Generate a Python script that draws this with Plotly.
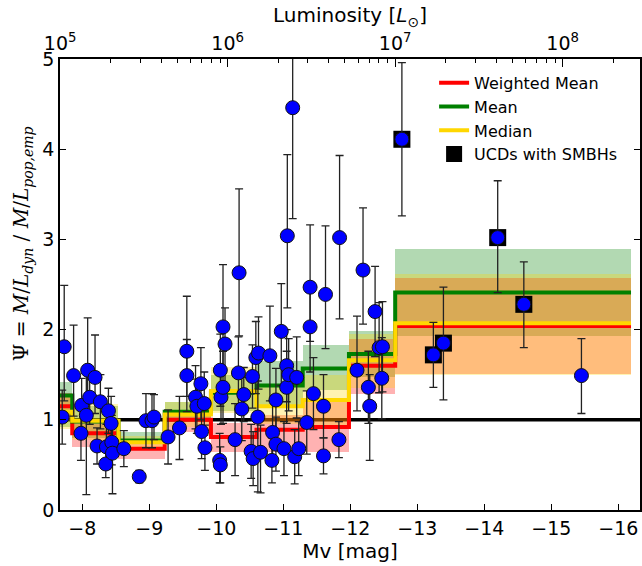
import plotly.graph_objects as go

# ── Individual objects: Mv, Psi and asymmetric errors ────────────────────────
mv = [-7.70, -7.73, -7.87, -7.98, -7.99, -8.06, -8.08, -8.11, -8.19, -8.22,
      -8.27, -8.35, -8.36, -8.39, -8.43, -8.44, -8.45, -8.62, -8.85, -8.95,
      -9.04, -9.07, -9.28, -9.45, -9.56, -9.56, -9.69, -9.71, -9.77, -9.78,
      -9.82, -9.83, -10.05, -10.06, -10.06, -10.07, -10.10, -10.10, -10.13, -10.28,
      -10.34, -10.33, -10.38, -10.41, -10.52, -10.54, -10.55, -10.59, -10.62, -10.63,
      -10.66, -10.80, -10.83, -10.84, -10.89, -10.89, -10.97, -11.01, -11.05, -11.05,
      -11.06, -11.08, -11.14, -11.17, -11.20, -11.23, -11.35, -11.40, -11.40, -11.45,
      -11.60, -11.60, -11.63, -11.84, -11.83, -12.10, -12.19, -12.27, -12.29, -12.37,
      -12.43, -12.47, -12.48, -12.77, -13.24, -13.39, -14.20, -14.59, -15.45]
psi = [1.03, 1.81, 1.49, 0.85, 1.16, 1.05, 1.55, 1.25, 1.47, 0.71,
       1.20, 0.51, 0.70, 1.10, 0.96, 0.75, 0.63, 0.68, 0.37, 0.99,
       0.99, 1.03, 0.81, 0.91, 1.76, 1.49, 1.25, 1.15, 1.40, 0.87,
       1.18, 0.69, 0.55, 0.50, 1.55, 1.25, 1.36, 2.03, 1.84, 0.78,
       2.63, 1.52, 1.12, 1.28, 0.65, 1.48, 0.57, 1.69, 1.03, 1.74,
       0.64, 1.71, 0.55, 0.86, 0.73, 1.22, 1.98, 0.68, 1.36, 1.60,
       3.04, 1.50, 4.46, 0.59, 1.47, 0.68, 0.97, 2.47, 2.03, 1.29,
       1.15, 0.60, 2.39, 3.02, 0.78, 1.55, 2.66, 1.36, 1.15, 2.20,
       1.80, 1.46, 1.81, 4.11, 1.72, 1.85, 3.02, 2.28, 1.49]
err_up = [0.30, 0.68, 0.56, 0.35, 0.30, 0.50, 0.58, 0.30, 0.47, 0.20,
          0.30, 0.15, 0.25, 0.25, 0.30, 0.30, 0.30, 0.20, 0.07, 0.30,
          0.30, 0.25, 0.30, 0.35, 0.61, 0.40, 0.35, 0.30, 0.40, 0.30,
          0.35, 0.25, 0.30, 0.20, 0.40, 0.30, 0.40, 0.69, 0.40, 0.40,
          0.93, 0.40, 0.35, 0.30, 0.30, 0.35, 0.30, 0.40, 0.40, 0.40,
          0.30, 0.55, 0.25, 0.35, 0.30, 0.35, 0.53, 0.30, 0.40, 0.40,
          0.90, 0.40, 0.90, 0.30, 0.45, 0.30, 0.35, 0.69, 0.50, 0.40,
          0.35, 0.20, 0.76, 0.91, 0.20, 0.60, 0.69, 0.40, 0.35, 0.50,
          0.50, 0.45, 0.50, 0.85, 0.36, 0.62, 0.63, 0.47, 0.41]
err_lo = [0.30, 0.60, 0.45, 0.30, 0.30, 0.88, 0.50, 0.30, 0.40, 0.20,
          0.30, 0.15, 0.25, 0.25, 0.30, 0.25, 0.45, 0.20, 0.07, 0.30,
          0.30, 0.25, 0.30, 0.35, 0.50, 0.40, 0.35, 0.30, 0.40, 0.30,
          0.35, 0.25, 0.25, 0.20, 0.40, 0.30, 0.40, 0.50, 0.45, 0.40,
          0.70, 0.40, 0.35, 0.30, 0.30, 0.35, 0.30, 0.40, 0.83, 0.40,
          0.45, 0.50, 0.25, 0.35, 0.30, 0.35, 0.60, 0.30, 0.40, 0.40,
          0.80, 0.40, 1.23, 0.30, 0.45, 0.30, 0.35, 0.60, 0.50, 0.40,
          0.35, 0.20, 0.60, 0.90, 0.20, 0.45, 0.60, 0.40, 0.60, 0.50,
          0.50, 0.45, 0.50, 0.85, 0.36, 0.63, 0.61, 0.48, 0.42]

# UCDs hosting supermassive black holes
smbh_mv = [-12.77, -13.24, -13.39, -14.20, -14.59]
smbh_psi = [4.11, 1.72, 1.85, 3.02, 2.28]

# ── Binned statistics ─────────────────────────────────────────────────────────
bin_edges = [-7.16, -7.85, -8.54, -9.23, -9.92, -10.60, -11.29, -11.98, -12.67, -16.19]
wmean  = [1.15, 0.85, 0.68, 1.00, 0.81, 0.89, 0.92, 1.60, 2.04]
mean   = [1.27, 0.98, 0.77, 1.09, 1.30, 1.38, 1.57, 1.73, 2.41]
median = [1.09, 0.99, 0.75, 1.06, 1.32, 1.15, 1.22, 1.66, 2.07]

wmean_lo  = [1.00, 0.70, 0.57, 0.86, 0.64, 0.64, 0.64, 1.29, 1.51]
wmean_hi  = [1.30, 0.96, 0.73, 1.10, 0.97, 1.05, 1.20, 1.90, 2.57]
mean_lo   = [0.92, 0.80, 0.75, 0.98, 1.10, 1.14, 1.33, 1.47, 1.93]
mean_hi   = [1.42, 1.15, 0.86, 1.20, 1.50, 1.65, 1.83, 1.99, 2.89]
median_lo = [0.90, 0.78, 0.68, 0.92, 1.07, 0.95, 0.92, 1.35, 1.50]
median_hi = [1.25, 1.18, 0.82, 1.20, 1.58, 1.38, 1.50, 1.95, 2.62]

mv_ticks = [-8, -9, -10, -11, -12, -13, -14, -15, -16]
lum_ticks = [1e5, 1e6, 1e7, 1e8]

RED = "#ff0000"
GREEN = "#008000"
GOLD = "#ffd700"
FONT = "DejaVu Sans, sans-serif"

MSUN_V = 4.83
MV_RANGE = [-7.667, -16.324]
lum_range = [(MSUN_V - MV_RANGE[0]) / 2.5, (MSUN_V - MV_RANGE[1]) / 2.5]

centers = [(a + b) / 2 for a, b in zip(bin_edges[:-1], bin_edges[1:])]
widths = [abs(b - a) for a, b in zip(bin_edges[:-1], bin_edges[1:])]

fig = go.Figure()

# black squares sit under the shaded bands
fig.add_trace(go.Scatter(
    x=smbh_mv, y=smbh_psi, mode="markers", name="UCDs with SMBHs",
    marker=dict(symbol="square", size=17, color="black"), legendrank=4,
))

for lo, hi, col in [(mean_lo, mean_hi, "rgba(0,128,0,0.3)"),
                    (wmean_lo, wmean_hi, "rgba(255,0,0,0.3)"),
                    (median_lo, median_hi, "rgba(255,215,0,0.3)")]:
    fig.add_trace(go.Bar(
        x=centers, width=widths, base=lo, y=[h - l for h, l in zip(hi, lo)],
        marker=dict(color=col, line=dict(width=0)), showlegend=False, hoverinfo="skip",
    ))

for vals, col, name, rank in [(wmean, RED, "Weighted Mean", 1),
                              (mean, GREEN, "Mean", 2),
                              (median, GOLD, "Median", 3)]:
    fig.add_trace(go.Scatter(
        x=bin_edges, y=vals + [vals[-1]], mode="lines", name=name,
        line=dict(color=col, width=4, shape="hv"), legendrank=rank,
    ))

fig.add_trace(go.Scatter(
    x=mv, y=psi, mode="markers", showlegend=False,
    marker=dict(size=14, color="#0000ff", line=dict(color="#111", width=1)),
    error_y=dict(type="data", symmetric=False, array=err_up, arrayminus=err_lo,
                 color="#222", thickness=1.3, width=4),
))

# invisible trace to carry the luminosity axis
fig.add_trace(go.Scatter(x=lum_ticks, y=[None] * len(lum_ticks), xaxis="x2",
                         showlegend=False, hoverinfo="skip"))

fig.add_hline(y=1, line=dict(color="black", width=3.5), layer="below")

minor_lum = [m * 10 ** e for e in range(5, 9) for m in range(2, 10)]

fig.update_layout(
    width=642, height=566,
    margin=dict(l=60, r=2, t=59, b=56),
    paper_bgcolor="white", plot_bgcolor="white",
    font=dict(family=FONT, size=19, color="black"),
    barmode="overlay", bargap=0,
    legend=dict(x=0.645, y=0.985, xanchor="left", yanchor="top",
                bgcolor="rgba(0,0,0,0)", font=dict(size=16), itemwidth=30,
                tracegroupgap=0),
    xaxis=dict(range=MV_RANGE, tickvals=mv_ticks,
               ticktext=["\u2212" + str(-t) for t in mv_ticks],
               ticks="inside", ticklen=6, tickcolor="black", showgrid=False,
               zeroline=False, showline=True, linecolor="black", linewidth=2,
               automargin=False,
               title=dict(text="Mv [mag]", font=dict(size=20), standoff=6)),
    xaxis2=dict(overlaying="x", side="top", type="log", range=lum_range,
                tickvals=lum_ticks,
                ticktext=["10<sup>%d</sup>" % e for e in range(5, 9)],
                ticks="inside", ticklen=8, tickcolor="black", showgrid=False,
                showline=True, linecolor="black", linewidth=1.5, automargin=False,
                minor=dict(tickvals=minor_lum, ticks="inside", ticklen=4,
                           tickcolor="black", showgrid=False),
                title=dict(text="Luminosity [<i>L</i><sub>\u2299</sub>]",
                           font=dict(size=20), standoff=0)),
    yaxis=dict(range=[0, 5], tickvals=[0, 1, 2, 3, 4, 5], ticks="inside",
               ticklen=6, tickcolor="black", showgrid=False, zeroline=False,
               showline=True, linecolor="black", linewidth=1.5, mirror="ticks",
               automargin=False),
)

fig.add_annotation(
    text="\u03a8 = <i>M</i>/<i>L</i><sub><i>dyn</i></sub> / "
         "<i>M</i>/<i>L</i><sub><i>pop,emp</i></sub>",
    xref="paper", yref="paper", x=-0.065, y=0.59, textangle=-90,
    showarrow=False, font=dict(family="DejaVu Serif, serif", size=20),
    xanchor="center", yanchor="middle",
)

# page body margin would shift the figure by 8px; remove it
fig.write_html("out.html", config={"displayModeBar": False},
               post_script="document.body.style.margin='0';")
